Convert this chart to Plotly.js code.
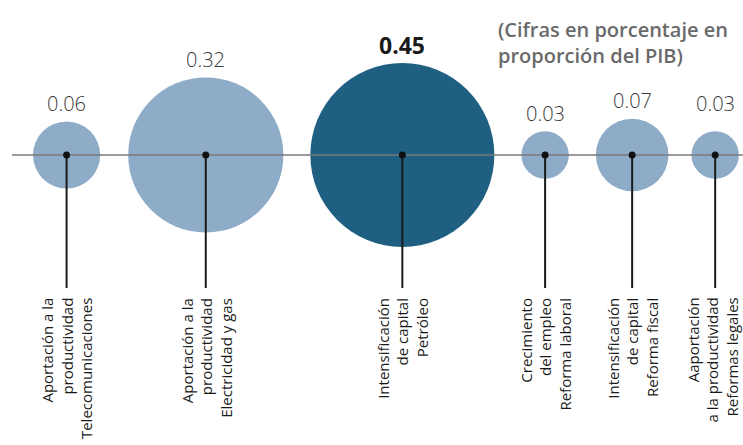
<!DOCTYPE html>
<html>
<head>
<meta charset="utf-8">
<script src="https://cdn.plot.ly/plotly-3.0.1.min.js"></script>
<style>html,body{margin:0;padding:0;background:#fff;}#chart{width:743px;height:445px;}</style>
</head>
<body>
<div id="chart"></div>
<script>
// ---- data ----
const categories = [
  'Aportación a la<br>productividad<br>Telecomunicaciones',
  'Aportación a la<br>productividad<br>Electricidad y gas',
  'Intensificación<br>de capital<br>Petróleo',
  'Crecimiento<br>del empleo<br>Reforma laboral',
  'Intensificación<br>de capital<br>Reforma fiscal',
  'Aaportación<br>a la productividad<br>Reformas legales'
];
const values = [0.06, 0.32, 0.45, 0.03, 0.07, 0.03];
const valueLabels = ['0.06', '0.32', '0.45', '0.03', '0.07', '0.03'];
const subtitle = '(Cifras en porcentaje en<br>proporción del PIB)';

// ---- layout / style ----
const W = 743, H = 445;
const axisY = 155;           // pixel row of the baseline
const maxDiam = 184;         // diameter of the largest bubble
const gaps = [28, 27, 27, 27, 23];   // spacing between neighbouring bubbles
const firstLeft = 33;
const stemLen = 133;
const lightColor = '#8eacc7';
const darkColor = '#1f5f82';
const highlightIndex = values.indexOf(Math.max(...values));
const extraLift = [0, 0, 0, 0, 0, 10];

const maxV = Math.max(...values);
// Plotly area mode: diameter = 2*sqrt((v/2)/sizeref)
const sizeref = 2 * maxV / (maxDiam * maxDiam);
const radii = values.map(v => Math.sqrt((v / 2) / sizeref));

// pack bubbles left to right
const xs = [];
let edge = firstLeft;
radii.forEach((r, i) => {
  xs.push(edge + r);
  edge += 2 * r + (gaps[i] || 0);
});

const font = 'Open Sans, Noto Sans, sans-serif';

const bubbles = {
  type: 'scatter', mode: 'markers',
  x: xs, y: values.map(() => 0),
  marker: {
    size: values, sizemode: 'area', sizeref: sizeref,
    color: values.map((v, i) => i === highlightIndex ? darkColor : lightColor),
    line: {width: 0}, opacity: 1
  },
  hoverinfo: 'skip'
};

const baseline = {
  type: 'scatter', mode: 'lines',
  x: [12, W], y: [0, 0],
  line: {color: '#7a7a7a', width: 1.5},
  hoverinfo: 'skip'
};

const stemX = [], stemY = [];
xs.forEach(x => { stemX.push(x, x, null); stemY.push(0, -stemLen, null); });
const stems = {
  type: 'scatter', mode: 'lines',
  x: stemX, y: stemY,
  line: {color: '#1a1a1a', width: 2},
  hoverinfo: 'skip'
};

const dots = {
  type: 'scatter', mode: 'markers',
  x: xs, y: values.map(() => 0),
  marker: {size: 7, color: '#111'},
  hoverinfo: 'skip'
};

const annotations = [];
values.forEach((v, i) => {
  const hi = i === highlightIndex;
  annotations.push({
    x: xs[i], y: radii[i] + 18 + extraLift[i],
    xref: 'x', yref: 'y', showarrow: false,
    text: valueLabels[i], xanchor: 'center', yanchor: 'middle',
    font: {family: font, size: hi ? 23 : 20, color: hi ? '#1a1a1a' : '#3a3a3a', weight: hi ? 700 : 300}
  });
  annotations.push({
    x: Math.min(xs[i], W - 31), y: -stemLen - 8,
    xref: 'x', yref: 'y', showarrow: false,
    text: categories[i], textangle: -90, align: 'right',
    xanchor: 'center', yanchor: 'top',
    font: {family: font, size: 15, color: '#1a1a1a'}
  });
});
annotations.push({
  x: 496, y: axisY - 14, xref: 'x', yref: 'y', showarrow: false,
  text: subtitle, align: 'left', xanchor: 'left', yanchor: 'top',
  font: {family: font, size: 20, color: '#6a6a6a', weight: 600}
});

const layout = {
  width: W, height: H,
  margin: {l: 0, r: 0, t: 0, b: 0},
  paper_bgcolor: '#fff', plot_bgcolor: '#fff',
  showlegend: false,
  xaxis: {range: [0, W], visible: false, fixedrange: true},
  yaxis: {range: [axisY - H, axisY], visible: false, fixedrange: true},
  annotations: annotations
};

Plotly.newPlot('chart', [bubbles, baseline, stems, dots], layout, {displayModeBar: false, staticPlot: true});
</script>
</body>
</html>
